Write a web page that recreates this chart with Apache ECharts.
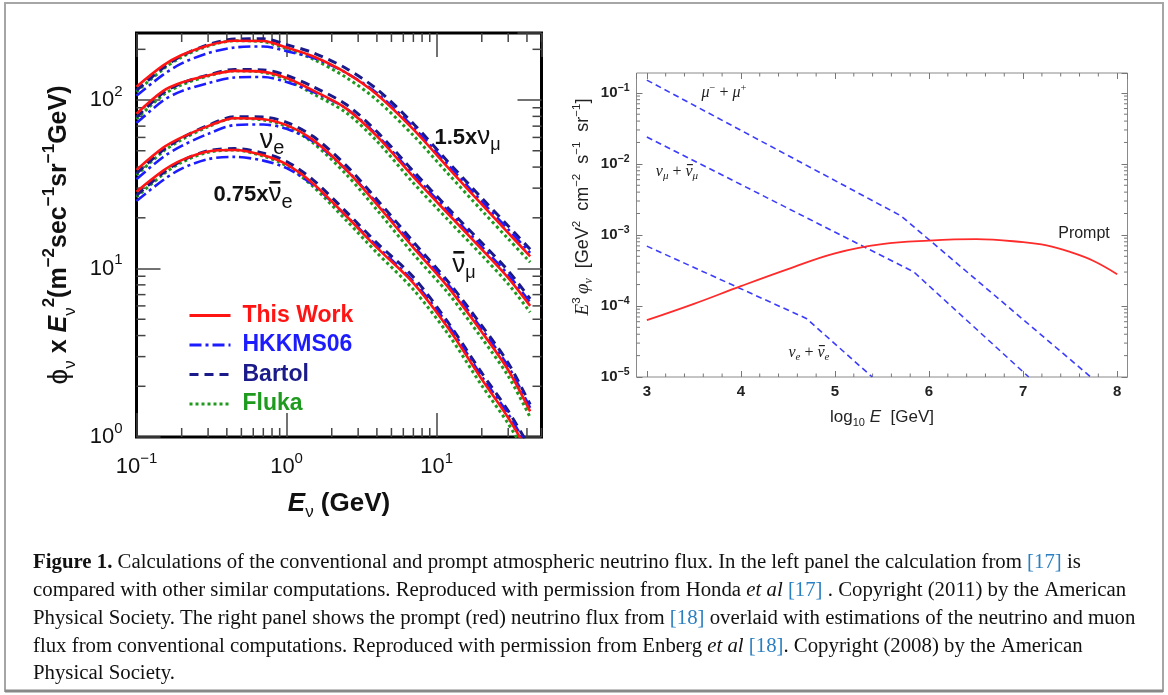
<!DOCTYPE html>
<html><head><meta charset="utf-8">
<script src="https://cdn.jsdelivr.net/npm/echarts@6/dist/echarts.min.js"></script>
<style>html,body{margin:0;padding:0;background:#fff}#c{width:1168px;height:695px}</style>
</head><body><div id="c"></div>
<script>
// ---------------- Left panel data (E in GeV, phi*E^2) ----------------
const leftE = [0.1, 0.15, 0.2, 0.3, 0.45, 0.7, 1, 1.5, 2.5, 4, 7, 12, 20, 30, 42];
// group 1 : 1.5 x nu_mu
const g1ThisWork = [120, 160, 185, 211, 225, 224, 205, 182, 145, 108, 67, 39.5, 24, 16.3, 11.8];
const g1HKKMS06  = [106, 141, 165, 190, 205, 208, 195, 178, 145, 110, 69, 41, 25, 17.1, 12.4];
const g1Bartol   = [114, 155, 183, 213, 230, 231, 213, 191, 154, 116, 72.4, 42.7, 26.2, 17.9, 13.0];
const g1Fluka    = [112, 152, 180, 209, 225, 222, 201, 175, 136, 100, 61.6, 36.3, 22.1, 15.0, 10.9];
// group 2 : anti nu_mu
const g2ThisWork = [83, 113, 127, 140, 149, 147, 135, 114, 89, 61, 35, 21, 13, 8.8, 6.0];
const g2HKKMS06  = [73, 99, 113, 126, 136, 137, 128, 112, 89, 62, 36.1, 21.8, 13.5, 9.2, 6.3];
const g2Bartol   = [79, 110, 126, 141, 152, 151, 140, 120, 94, 65, 37.8, 22.7, 14.2, 9.7, 6.6];
const g2Fluka    = [77, 107, 123, 139, 149, 146, 132, 109, 84, 57, 32.2, 19.3, 12.0, 8.1, 5.5];
// group 3 : nu_e
const g3ThisWork = [38.5, 52, 60, 70, 78, 77, 71, 58, 38.5, 24, 13.3, 7.7, 4.2, 2.5, 1.42];
const g3HKKMS06  = [33.9, 45.8, 53.4, 63, 71, 71.6, 67.5, 56.8, 38.5, 24.5, 13.7, 8.0, 4.37, 2.63, 1.49];
const g3Bartol   = [36.6, 50.4, 59.4, 70.7, 79.6, 79.3, 73.8, 60.9, 40.8, 25.7, 14.4, 8.3, 4.58, 2.75, 1.56];
const g3Fluka    = [35.8, 49.4, 58.2, 69.3, 78, 76.2, 69.6, 55.7, 36.2, 22.3, 12.2, 7.1, 3.86, 2.3, 1.31];
// group 4 : 0.75 x anti nu_e
const g4ThisWork = [28.6, 38, 44, 49.5, 50.5, 47, 41.5, 32, 20.5, 13.3, 8.2, 4.4, 2.2, 1.3, 0.78];
const g4HKKMS06  = [25.2, 33.4, 39.2, 44.6, 46.0, 43.7, 39.4, 31.4, 20.5, 13.6, 8.4, 4.6, 2.29, 1.37, 0.82];
const g4Bartol   = [27.2, 36.9, 43.6, 50.0, 51.5, 48.4, 43.2, 33.6, 21.7, 14.2, 8.9, 4.75, 2.4, 1.43, 0.86];
const g4Fluka    = [26.6, 36.1, 42.7, 49.0, 50.5, 46.5, 40.7, 30.7, 19.3, 12.4, 7.5, 4.05, 2.02, 1.2, 0.72];

const legendNames = ['This Work', 'HKKMS06', 'Bartol', 'Fluka'];
const leftXTicks = [0.1, 1, 10];
const leftXTickLabels = ['\u22121', '0', '1'];
const leftYTicks = [1, 10, 100];
const leftYTickLabels = ['0', '1', '2'];

// ---------------- Right panel data (log10 E, E^3 phi) ----------------
const muX = [3, 5.70, 7.72];
const muY = [0.151, 1.86e-3, 1e-5];
const numuX = [3, 5.84, 7.06];
const numuY = [2.39e-2, 3.0e-4, 1e-5];
const nueX = [3, 4.695, 5.396];
const nueY = [6.95e-4, 6.68e-5, 1e-5];
const promptX = [3, 3.5, 4, 4.5, 5, 5.5, 6, 6.5, 7, 7.25, 7.5, 7.75, 8];
const promptY = [6.3e-5, 1.07e-4, 1.9e-4, 3.3e-4, 5.5e-4, 7.4e-4, 8.3e-4, 8.7e-4, 7.9e-4, 7.1e-4, 5.75e-4, 4.3e-4, 2.8e-4];
const rightXTicks = [3, 4, 5, 6, 7, 8];
const rightXTickLabels = ['3', '4', '5', '6', '7', '8'];
const rightYTicks = [1e-5, 1e-4, 1e-3, 1e-2, 1e-1];
const rightYTickLabels = ['\u22125', '\u22124', '\u22123', '\u22122', '\u22121'];

// ---------------- helpers ----------------
const SANS = '"Liberation Sans", Arial, sans-serif';
const SERIF = '"Liberation Serif", "Times New Roman", serif';
const pairs = (xs, ys) => xs.map((x, i) => [x, ys[i]]);
const idxOf = (arr, v) => arr.findIndex(t => Math.abs(Math.log10(t) - Math.log10(v)) < 1e-6);

// minor tick positions (axis decoration)
const leftXMinor = [], leftYMinor = [], rightXMinor = [], rightYMinor = [];
[0.1, 1, 10].forEach(d => { for (let m = 2; m <= 9; m++) if (m * d <= 50) leftXMinor.push(m * d); });
[1, 10, 100].forEach(d => { for (let m = 2; m <= 9; m++) if (m * d <= 250) leftYMinor.push(m * d); });
for (let k = 3; k < 8; k++) for (let j = 1; j <= 4; j++) rightXMinor.push(k + j * 0.2);
[1e-5, 1e-4, 1e-3, 1e-2, 1e-1].forEach(d => { for (let m = 2; m <= 9; m++) if (m * d <= 0.19) rightYMinor.push(m * d); });

const modelStyle = {
  'This Work': { color: '#ff1414', type: 'solid', width: 2.6 },
  'HKKMS06':   { color: '#1c1cff', type: [12, 4, 3, 4], width: 2.6 },
  'Bartol':    { color: '#1a1a8a', type: [9, 6], width: 3 },
  'Fluka':     { color: '#1e9a1e', type: [3, 3], width: 3 }
};
const groups = [
  { 'This Work': g1ThisWork, 'HKKMS06': g1HKKMS06, 'Bartol': g1Bartol, 'Fluka': g1Fluka },
  { 'This Work': g2ThisWork, 'HKKMS06': g2HKKMS06, 'Bartol': g2Bartol, 'Fluka': g2Fluka },
  { 'This Work': g3ThisWork, 'HKKMS06': g3HKKMS06, 'Bartol': g3Bartol, 'Fluka': g3Fluka },
  { 'This Work': g4ThisWork, 'HKKMS06': g4HKKMS06, 'Bartol': g4Bartol, 'Fluka': g4Fluka }
];
const drawOrder = ['Fluka', 'Bartol', 'HKKMS06', 'This Work'];

const series = [];
drawOrder.forEach((name, oi) => {
  groups.forEach(g => {
    const st = modelStyle[name];
    series.push({
      type: 'line', name, xAxisIndex: 0, yAxisIndex: 0,
      data: pairs(leftE, g[name]), smooth: 0.3, symbol: 'none', showSymbol: false,
      clip: true, silent: true, z: 3 + oi,
      lineStyle: { color: st.color, type: st.type, width: st.width, cap: 'butt' },
      itemStyle: { color: st.color }
    });
  });
});

function tickSeries(xi, yi, data, dir, len, color, lw) {
  return {
    type: 'custom', xAxisIndex: xi, yAxisIndex: yi, silent: true, z: 2,
    data, renderItem: (params, api) => {
      const p = api.coord([api.value(0), api.value(1)]);
      const cs = params.coordSys;
      const st = { stroke: color, lineWidth: lw };
      if (dir === 'x') {
        return { type: 'group', children: [
          { type: 'line', shape: { x1: p[0], y1: cs.y + cs.height, x2: p[0], y2: cs.y + cs.height - len }, style: st },
          { type: 'line', shape: { x1: p[0], y1: cs.y, x2: p[0], y2: cs.y + len }, style: st }
        ] };
      }
      return { type: 'group', children: [
        { type: 'line', shape: { x1: cs.x, y1: p[1], x2: cs.x + len, y2: p[1] }, style: st },
        { type: 'line', shape: { x1: cs.x + cs.width, y1: p[1], x2: cs.x + cs.width - len, y2: p[1] }, style: st }
      ] };
    }
  };
}
series.push(tickSeries(0, 0, leftXMinor.map(v => [v, 1]), 'x', 9, '#444', 1.5));
series.push(tickSeries(0, 0, leftYMinor.map(v => [0.1, v]), 'y', 9, '#444', 1.5));
series.push(tickSeries(2, 2, rightXMinor.map(v => [v, 1e-5]), 'x', 3.5, '#777', 1));
series.push(tickSeries(2, 2, rightYMinor.map(v => [3, v]), 'y', 3.5, '#777', 1));

// right panel series
const dashBlue = { color: '#3c3cff', type: [6, 4], width: 1.6 };
series.push({ type: 'line', name: 'mu', xAxisIndex: 2, yAxisIndex: 2, data: pairs(muX, muY), symbol: 'none', lineStyle: dashBlue, clip: true, silent: true, z: 3 });
series.push({ type: 'line', name: 'numu', xAxisIndex: 2, yAxisIndex: 2, data: pairs(numuX, numuY), symbol: 'none', lineStyle: dashBlue, clip: true, silent: true, z: 3 });
series.push({ type: 'line', name: 'nue', xAxisIndex: 2, yAxisIndex: 2, data: pairs(nueX, nueY), symbol: 'none', lineStyle: dashBlue, clip: true, silent: true, z: 3 });
series.push({ type: 'line', name: 'Prompt', xAxisIndex: 2, yAxisIndex: 2, data: pairs(promptX, promptY), smooth: 0.4, symbol: 'none', lineStyle: { color: '#ff2a2a', width: 1.8 }, clip: true, silent: true, z: 4 });

const leftTickRich = {
  b: { fontFamily: SANS, fontSize: 22, color: '#111', lineHeight: 32, verticalAlign: 'middle' },
  s: { fontFamily: SANS, fontSize: 15, color: '#111', lineHeight: 14, verticalAlign: 'top' }
};
const rightTickRich = {
  b: { fontFamily: SANS, fontSize: 15, color: '#222', lineHeight: 20, verticalAlign: 'middle', fontWeight: 'bold' },
  s: { fontFamily: SANS, fontSize: 10.5, color: '#222', lineHeight: 9, verticalAlign: 'top', fontWeight: 'bold' }
};

const leftLogAxisCommon = {
  type: 'log', logBase: 10, axisLine: { show: false }, splitLine: { show: false },
  axisTick: { inside: true, length: 24, lineStyle: { color: '#444', width: 1.5 } }
};
const rightCommon = { axisLine: { show: false }, splitLine: { show: false },
  axisTick: { inside: true, length: 6, lineStyle: { color: '#777', width: 1 } } };

const option = {
  animation: false,
  backgroundColor: '#fff',
  grid: [
    { left: 136.5, top: 33, width: 405, height: 404, show: true, borderColor: '#000', borderWidth: 3, backgroundColor: 'transparent' },
    { left: 636.5, top: 73, width: 491, height: 304, show: true, borderColor: '#8a8a8a', borderWidth: 1, backgroundColor: 'transparent' }
  ],
  legend: {
    data: legendNames.map(n => ({ name: n, textStyle: { color: modelStyle[n].color } })),
    orient: 'vertical', left: 183, top: 299, itemWidth: 41, itemHeight: 14, itemGap: 6.5,
    itemStyle: { opacity: 0 },
    lineStyle: { width: 3 },
    textStyle: { fontFamily: SANS, fontSize: 23, fontWeight: 'bold', lineHeight: 20, padding: [0, 0, 0, 7] },
    selectedMode: false
  },
  xAxis: [
    Object.assign({}, leftLogAxisCommon, {
      gridIndex: 0, min: 0.1, max: 50, position: 'bottom',
      axisLabel: { margin: 14, showMaxLabel: false, rich: leftTickRich,
        formatter: v => { const i = idxOf(leftXTicks, v); return i < 0 ? '' : '{b|10}{s|' + leftXTickLabels[i] + '}'; } },
      name: '{i|E}{sub|\u03bd}{b| (GeV)}', nameLocation: 'middle', nameGap: 50,
      nameTextStyle: { rich: {
        i: { fontFamily: SANS, fontSize: 26, fontWeight: 'bold', fontStyle: 'italic', color: '#111', lineHeight: 34 },
        sub: { fontFamily: SANS, fontSize: 17, color: '#111', lineHeight: 14, verticalAlign: 'bottom' },
        b: { fontFamily: SANS, fontSize: 26, fontWeight: 'bold', color: '#111', lineHeight: 34 } } }
    }),
    Object.assign({}, leftLogAxisCommon, { gridIndex: 0, min: 0.1, max: 50, position: 'top', axisLabel: { show: false } }),
    Object.assign({}, rightCommon, {
      type: 'value', gridIndex: 1, min: 2.89, max: 8.11, minInterval: 1, maxInterval: 1, position: 'bottom',
      axisLabel: { margin: 7, showMinLabel: false, showMaxLabel: false, fontFamily: SANS, fontSize: 15, fontWeight: 'bold', color: '#222',
        formatter: v => { const i = rightXTicks.indexOf(Math.round(v * 1000) / 1000); return i < 0 ? '' : rightXTickLabels[i]; } },
      name: '{n|log}{sub|10}{i| E}{n|  [GeV]}', nameLocation: 'middle', nameGap: 29,
      nameTextStyle: { rich: {
        n: { fontFamily: SANS, fontSize: 17, color: '#222', lineHeight: 22 },
        sub: { fontFamily: SANS, fontSize: 11, color: '#222', lineHeight: 12, verticalAlign: 'bottom' },
        i: { fontFamily: SANS, fontSize: 17, fontStyle: 'italic', color: '#222', lineHeight: 22 } } }
    }),
    Object.assign({}, rightCommon, { type: 'value', gridIndex: 1, min: 2.89, max: 8.11, minInterval: 1, maxInterval: 1, position: 'top', axisLabel: { show: false } })
  ],
  yAxis: [
    Object.assign({}, leftLogAxisCommon, {
      gridIndex: 0, min: 1, max: 250, position: 'left',
      axisLabel: { margin: 14, showMaxLabel: false, rich: leftTickRich,
        formatter: v => { const i = idxOf(leftYTicks, v); return i < 0 ? '' : '{b|10}{s|' + leftYTickLabels[i] + '}'; } },
      name: '{phi|\u03d5}{sub|\u03bd}{b| x }{bi|E}{sub|\u03bd}{sup|2}{b|(m}{sup|\u22122}{b|sec}{sup|\u22121}{b|sr}{sup|\u22121}{b|GeV)}',
      nameLocation: 'middle', nameGap: 58, nameRotate: 90,
      nameTextStyle: { rich: {
        phi: { fontFamily: SANS, fontSize: 28, color: '#111', lineHeight: 38 },
        b: { fontFamily: SANS, fontSize: 25, fontWeight: 'bold', color: '#111', lineHeight: 38 },
        bi: { fontFamily: SANS, fontSize: 25, fontWeight: 'bold', fontStyle: 'italic', color: '#111', lineHeight: 38 },
        sup: { fontFamily: SANS, fontSize: 17, fontWeight: 'bold', color: '#111', lineHeight: 17, verticalAlign: 'top' },
        sub: { fontFamily: SANS, fontSize: 17, color: '#111', lineHeight: 15, verticalAlign: 'bottom' } } }
    }),
    Object.assign({}, leftLogAxisCommon, { gridIndex: 0, min: 1, max: 250, position: 'right', axisLabel: { show: false } }),
    Object.assign({}, rightCommon, {
      type: 'log', logBase: 10, gridIndex: 1, min: 1e-5, max: 0.19, position: 'left',
      axisLabel: { margin: 7, showMaxLabel: false, rich: rightTickRich,
        formatter: v => { const i = idxOf(rightYTicks, v); return i < 0 ? '' : '{b|10}{s|' + rightYTickLabels[i] + '}'; } }
    }),
    Object.assign({}, rightCommon, { type: 'log', logBase: 10, gridIndex: 1, min: 1e-5, max: 0.19, position: 'right', axisLabel: { show: false } })
  ],
  series,
  graphic: []
};

// ---- annotations (measured segment layout) ----
const mctx = document.createElement('canvas').getContext('2d');
function segText(cx, cy, segs) {
  const widths = segs.map(s => { mctx.font = (s.style || 'normal') + ' ' + (s.weight || 'normal') + ' ' + s.size + 'px ' + s.family; return mctx.measureText(s.t).width; });
  const total = widths.reduce((a, b) => a + b, 0);
  let x = cx - total / 2;
  const els = [];
  segs.forEach((s, i) => {
    els.push({ type: 'text', x, y: cy + (s.dy || 0), z: 20, silent: true,
      style: { text: s.t, fontSize: s.size, fontFamily: s.family, fontWeight: s.weight || 'normal', fontStyle: s.style || 'normal', fill: s.fill || '#111', align: 'left', verticalAlign: 'middle' } });
    if (s.bar !== undefined) els.push({ type: 'rect', z: 20, silent: true,
      shape: { x: x + widths[i] * (s.barOff || 0.08), y: cy + s.bar, width: widths[i] * 0.84, height: s.barH || 2.6 }, style: { fill: s.fill || '#111' } });
    x += widths[i];
  });
  return els;
}
const g = option.graphic;
g.push({ type: 'rect', shape: { x: 5, y: 3, width: 1158, height: 688 }, style: { fill: 'none', stroke: '#a6a6a6', lineWidth: 2 }, silent: true, z: 0 });
g.push({ type: 'line', shape: { x1: 5, y1: 691, x2: 1163, y2: 691 }, style: { stroke: '#888', lineWidth: 3 }, silent: true, z: 0 });

g.push(...segText(467.6, 138, [
  { t: '1.5x', size: 22, weight: 'bold', family: SANS },
  { t: '\u03bd', size: 26, family: SANS, dy: -1 },
  { t: '\u03bc', size: 18, family: SANS, dy: 7 }]));
g.push(...segText(272, 141, [
  { t: '\u03bd', size: 27, family: SANS },
  { t: 'e', size: 20, family: SANS, dy: 7 }]));
g.push(...segText(253, 195, [
  { t: '0.75x', size: 22, weight: 'bold', family: SANS },
  { t: '\u03bd', size: 26, family: SANS, dy: -1, bar: -14 },
  { t: 'e', size: 20, family: SANS, dy: 7 }]));
g.push(...segText(464, 265, [
  { t: '\u03bd', size: 26, family: SANS, bar: -14 },
  { t: '\u03bc', size: 18, family: SANS, dy: 8 }]));

const annRichR = {
  i: { fontFamily: SERIF, fontSize: 16, fontStyle: 'italic', fill: '#222', lineHeight: 20 },
  n: { fontFamily: SERIF, fontSize: 16, fill: '#222', lineHeight: 20 },
  sup: { fontFamily: SERIF, fontSize: 10.5, fill: '#222', lineHeight: 9, verticalAlign: 'top' }
};
g.push({ type: 'text', x: 724, y: 93, z: 20, silent: true,
  style: { text: '{i|\u03bc}{sup|\u2212}{n| + }{i|\u03bc}{sup|+}', rich: annRichR, align: 'center', verticalAlign: 'middle' } });
const rI = { size: 16, family: SERIF, style: 'italic', fill: '#222' };
const rS = { size: 11, family: SERIF, style: 'italic', fill: '#222', dy: 4 };
const rN = { size: 16, family: SERIF, fill: '#222' };
g.push(...segText(677, 172, [
  Object.assign({ t: '\u03bd' }, rI), Object.assign({ t: '\u03bc' }, rS), Object.assign({ t: ' + ' }, rN),
  Object.assign({ t: '\u03bd', bar: -8, barH: 1.2, barOff: 0.2 }, rI), Object.assign({ t: '\u03bc' }, rS)]));
g.push(...segText(809, 353, [
  Object.assign({ t: '\u03bd' }, rI), Object.assign({ t: 'e' }, rS), Object.assign({ t: ' + ' }, rN),
  Object.assign({ t: '\u03bd', bar: -8, barH: 1.2, barOff: 0.2 }, rI), Object.assign({ t: 'e' }, rS)]));
g.push({ type: 'text', x: 1084, y: 234, z: 20, silent: true,
  style: { text: 'Prompt', fontFamily: SANS, fontSize: 16, fill: '#222', align: 'center', verticalAlign: 'middle' } });

// right y-axis title (rotated)
g.push({ type: 'text', x: 583, y: 207, rotation: Math.PI / 2, z: 20, silent: true,
  style: { text: '{i|E}{sup|3} {i|\u03c6}{sub|\u03bd}{n|  [GeV}{sup|2}{n|  cm}{sup|\u22122}{n|  s}{sup|\u22121}{n|  sr}{sup|\u22121}{n|]}',
    align: 'center', verticalAlign: 'middle',
    rich: {
      i: { fontFamily: SERIF, fontSize: 19, fontStyle: 'italic', fill: '#222', lineHeight: 24 },
      n: { fontFamily: SANS, fontSize: 18, fill: '#222', lineHeight: 24 },
      sup: { fontFamily: SANS, fontSize: 11.5, fill: '#222', lineHeight: 11, verticalAlign: 'top' },
      sub: { fontFamily: SERIF, fontSize: 12, fontStyle: 'italic', fill: '#222', lineHeight: 11, verticalAlign: 'bottom' } } } });

// ---- caption ----
const capLines = [
  '{bold|Figure 1.} Calculations of the conventional and prompt atmospheric neutrino flux. In the left panel the calculation from {ref|[17]} is',
  'compared with other similar computations. Reproduced with permission from Honda {it|et al} {ref|[17]} . Copyright (2011) by the American',
  'Physical Society. The right panel shows the prompt (red) neutrino flux from {ref|[18]} overlaid with estimations of the neutrino and muon',
  'flux from conventional computations. Reproduced with permission from Enberg {it|et al} {ref|[18]}. Copyright (2008) by the American',
  'Physical Society.'
];
const capY = [563, 591, 619, 647, 674];
const CAP = 20.8;
const capRich = {
  bold: { fontFamily: SERIF, fontSize: CAP, fontWeight: 'bold', fill: '#111' },
  it: { fontFamily: SERIF, fontSize: CAP, fontStyle: 'italic', fill: '#111' },
  ref: { fontFamily: SERIF, fontSize: CAP, fill: '#2a7fc0' }
};
capLines.forEach((t, i) => g.push({ type: 'text', x: 33, y: capY[i], z: 20, silent: true,
  style: { text: t, rich: capRich, fontFamily: SERIF, fontSize: CAP, fill: '#111', align: 'left', verticalAlign: 'middle' } }));

const chart = echarts.init(document.getElementById('c'));
chart.setOption(option);
</script></body></html>
